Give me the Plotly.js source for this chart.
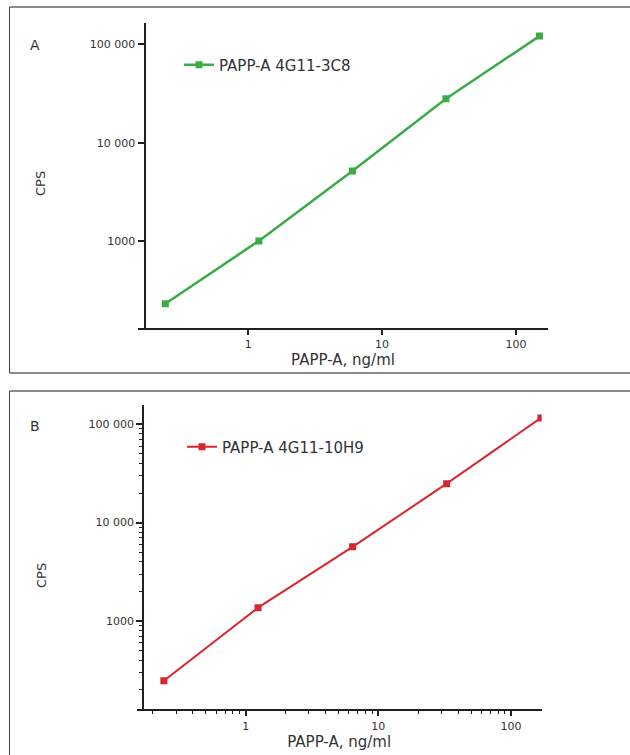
<!DOCTYPE html>
<html>
<head>
<meta charset="utf-8">
<script src="https://cdn.plot.ly/plotly-3.0.1.min.js"></script>
<style>
html,body{margin:0;padding:0;background:#fff;}
#chart{width:630px;height:755px;}
</style>
</head>
<body>
<div id="chart"></div>
<script>
// ---- data ----
const seriesA = "PAPP-A 4G11-3C8";
const concA = [0.24, 1.2, 6, 30, 150];
const cpsA = [231, 1005, 5140, 27900, 121000];

const seriesB = "PAPP-A 4G11-10H9";
const concB = [0.242, 1.24, 6.4, 32.7, 168];
const cpsB = [247, 1366, 5670, 24900, 116000];

const xTickVals = [1, 10, 100];
const xTickText = ["1", "10", "100"];
const yTickVals = [1000, 10000, 100000];
const yTickText = ["1000", "10 000", "100 000"];

const xTitle = "PAPP-A, ng/ml";
const yTitle = "CPS";
const panelA = "A";
const panelB = "B";

// ---- layout helpers ----
const W = 630, H = 755;
const px = x => x / W;
const py = y => 1 - y / H;
const FONT = "'DejaVu Sans', 'Open Sans', sans-serif";
const TXT = "#333333";
const AX = "#231f20";

function minorVals(lo, hi) {
  const v = [];
  for (let d = lo; d <= hi; d++) {
    for (let m = 2; m <= 9; m++) v.push(m * Math.pow(10, d));
  }
  return v;
}

const traces = [
  {
    x: concA, y: cpsA, name: seriesA, type: "scatter", mode: "lines+markers",
    xaxis: "x", yaxis: "y", legend: "legend",
    line: {color: "#3bab47", width: 2.5},
    marker: {symbol: "square", size: 7, color: "#3bab47"}
  },
  {
    x: concB, y: cpsB, name: seriesB, type: "scatter", mode: "lines+markers",
    xaxis: "x2", yaxis: "y2", legend: "legend2",
    line: {color: "#d7262d", width: 2},
    marker: {symbol: "square", size: 7, color: "#d7262d"}
  }
];

function xAxis(domain, range, yId, minor) {
  const a = {
    type: "log", domain: domain, range: range, anchor: yId,
    showgrid: false, zeroline: false,
    showline: true, linecolor: AX, linewidth: 2,
    ticks: "outside", ticklen: 5, tickwidth: 2, tickcolor: AX,
    tickmode: "array", tickvals: xTickVals, ticktext: xTickText,
    tickfont: {family: FONT, size: 11, color: TXT},
    title: {text: xTitle, font: {family: FONT, size: 15, color: TXT}, standoff: 0}
  };
  if (minor) a.minor = {ticks: "outside", ticklen: 3, tickwidth: 1, tickcolor: AX,
                        tickmode: "array", tickvals: minorVals(-1, 2), showgrid: false};
  return a;
}
function yAxis(domain, range, pos, minor) {
  const a = {
    type: "log", domain: domain, range: range, anchor: "free", position: pos,
    showgrid: false, zeroline: false,
    showline: true, linecolor: AX, linewidth: 2,
    ticks: "outside", ticklen: 6, tickwidth: 2, tickcolor: AX,
    tickmode: "array", tickvals: yTickVals, ticktext: yTickText,
    tickfont: {family: FONT, size: 11, color: TXT}
  };
  if (minor) a.minor = {ticks: "outside", ticklen: 3, tickwidth: 1, tickcolor: AX,
                        tickmode: "array", tickvals: minorVals(2, 5), showgrid: false};
  return a;
}

const layout = {
  width: W, height: H,
  margin: {l: 0, r: 0, t: 0, b: 0},
  paper_bgcolor: "#ffffff", plot_bgcolor: "rgba(0,0,0,0)",
  font: {family: FONT, color: TXT},
  xaxis: xAxis([px(138), px(548)], [-0.824, 2.240], "y", false),
  yaxis: yAxis([py(327.7), py(23)], [2.120, 5.216], px(144.5), false),
  xaxis2: xAxis([px(136.7), px(541.7)], [-0.821, 2.231], "y2", true),
  yaxis2: yAxis([py(709.3), py(405)], [2.102, 5.196], px(143.3), true),
  legend: {x: px(179), y: py(65), xanchor: "left", yanchor: "middle",
           bgcolor: "rgba(0,0,0,0)", font: {family: FONT, size: 15, color: TXT}},
  legend2: {x: px(182), y: py(447), xanchor: "left", yanchor: "middle",
            bgcolor: "rgba(0,0,0,0)", font: {family: FONT, size: 15, color: TXT}},
  showlegend: true,
  annotations: [
    {text: panelA, x: px(35), y: py(45), xref: "paper", yref: "paper", showarrow: false,
     xanchor: "center", yanchor: "middle", font: {family: FONT, size: 14, color: TXT}},
    {text: panelB, x: px(35), y: py(426), xref: "paper", yref: "paper", showarrow: false,
     xanchor: "center", yanchor: "middle", font: {family: FONT, size: 14, color: TXT}},
    {text: yTitle, x: px(41), y: py(184), xref: "paper", yref: "paper", showarrow: false,
     xanchor: "center", yanchor: "middle",
     textangle: -90, font: {family: FONT, size: 13, color: TXT}},
    {text: yTitle, x: px(41), y: py(576), xref: "paper", yref: "paper", showarrow: false,
     xanchor: "center", yanchor: "middle",
     textangle: -90, font: {family: FONT, size: 13, color: TXT}}
  ],
  shapes: [
    // panel A frame
    {type: "line", xref: "paper", yref: "paper", x0: px(9.5), x1: 1, y0: py(7), y1: py(7), line: {color: "#8a8a8a", width: 2}},
    {type: "line", xref: "paper", yref: "paper", x0: px(9.5), x1: px(9.5), y0: py(7), y1: py(373), line: {color: "#444444", width: 1}},
    {type: "line", xref: "paper", yref: "paper", x0: px(9.5), x1: 1, y0: py(373), y1: py(373), line: {color: "#666666", width: 1.5}},
    // panel B frame
    {type: "line", xref: "paper", yref: "paper", x0: px(9.5), x1: 1, y0: py(391), y1: py(391), line: {color: "#8a8a8a", width: 2}},
    {type: "line", xref: "paper", yref: "paper", x0: px(9.5), x1: px(9.5), y0: py(391), y1: 0, line: {color: "#444444", width: 1}}
  ]
};

Plotly.newPlot("chart", traces, layout, {displayModeBar: false, staticPlot: true});
</script>
</body>
</html>
